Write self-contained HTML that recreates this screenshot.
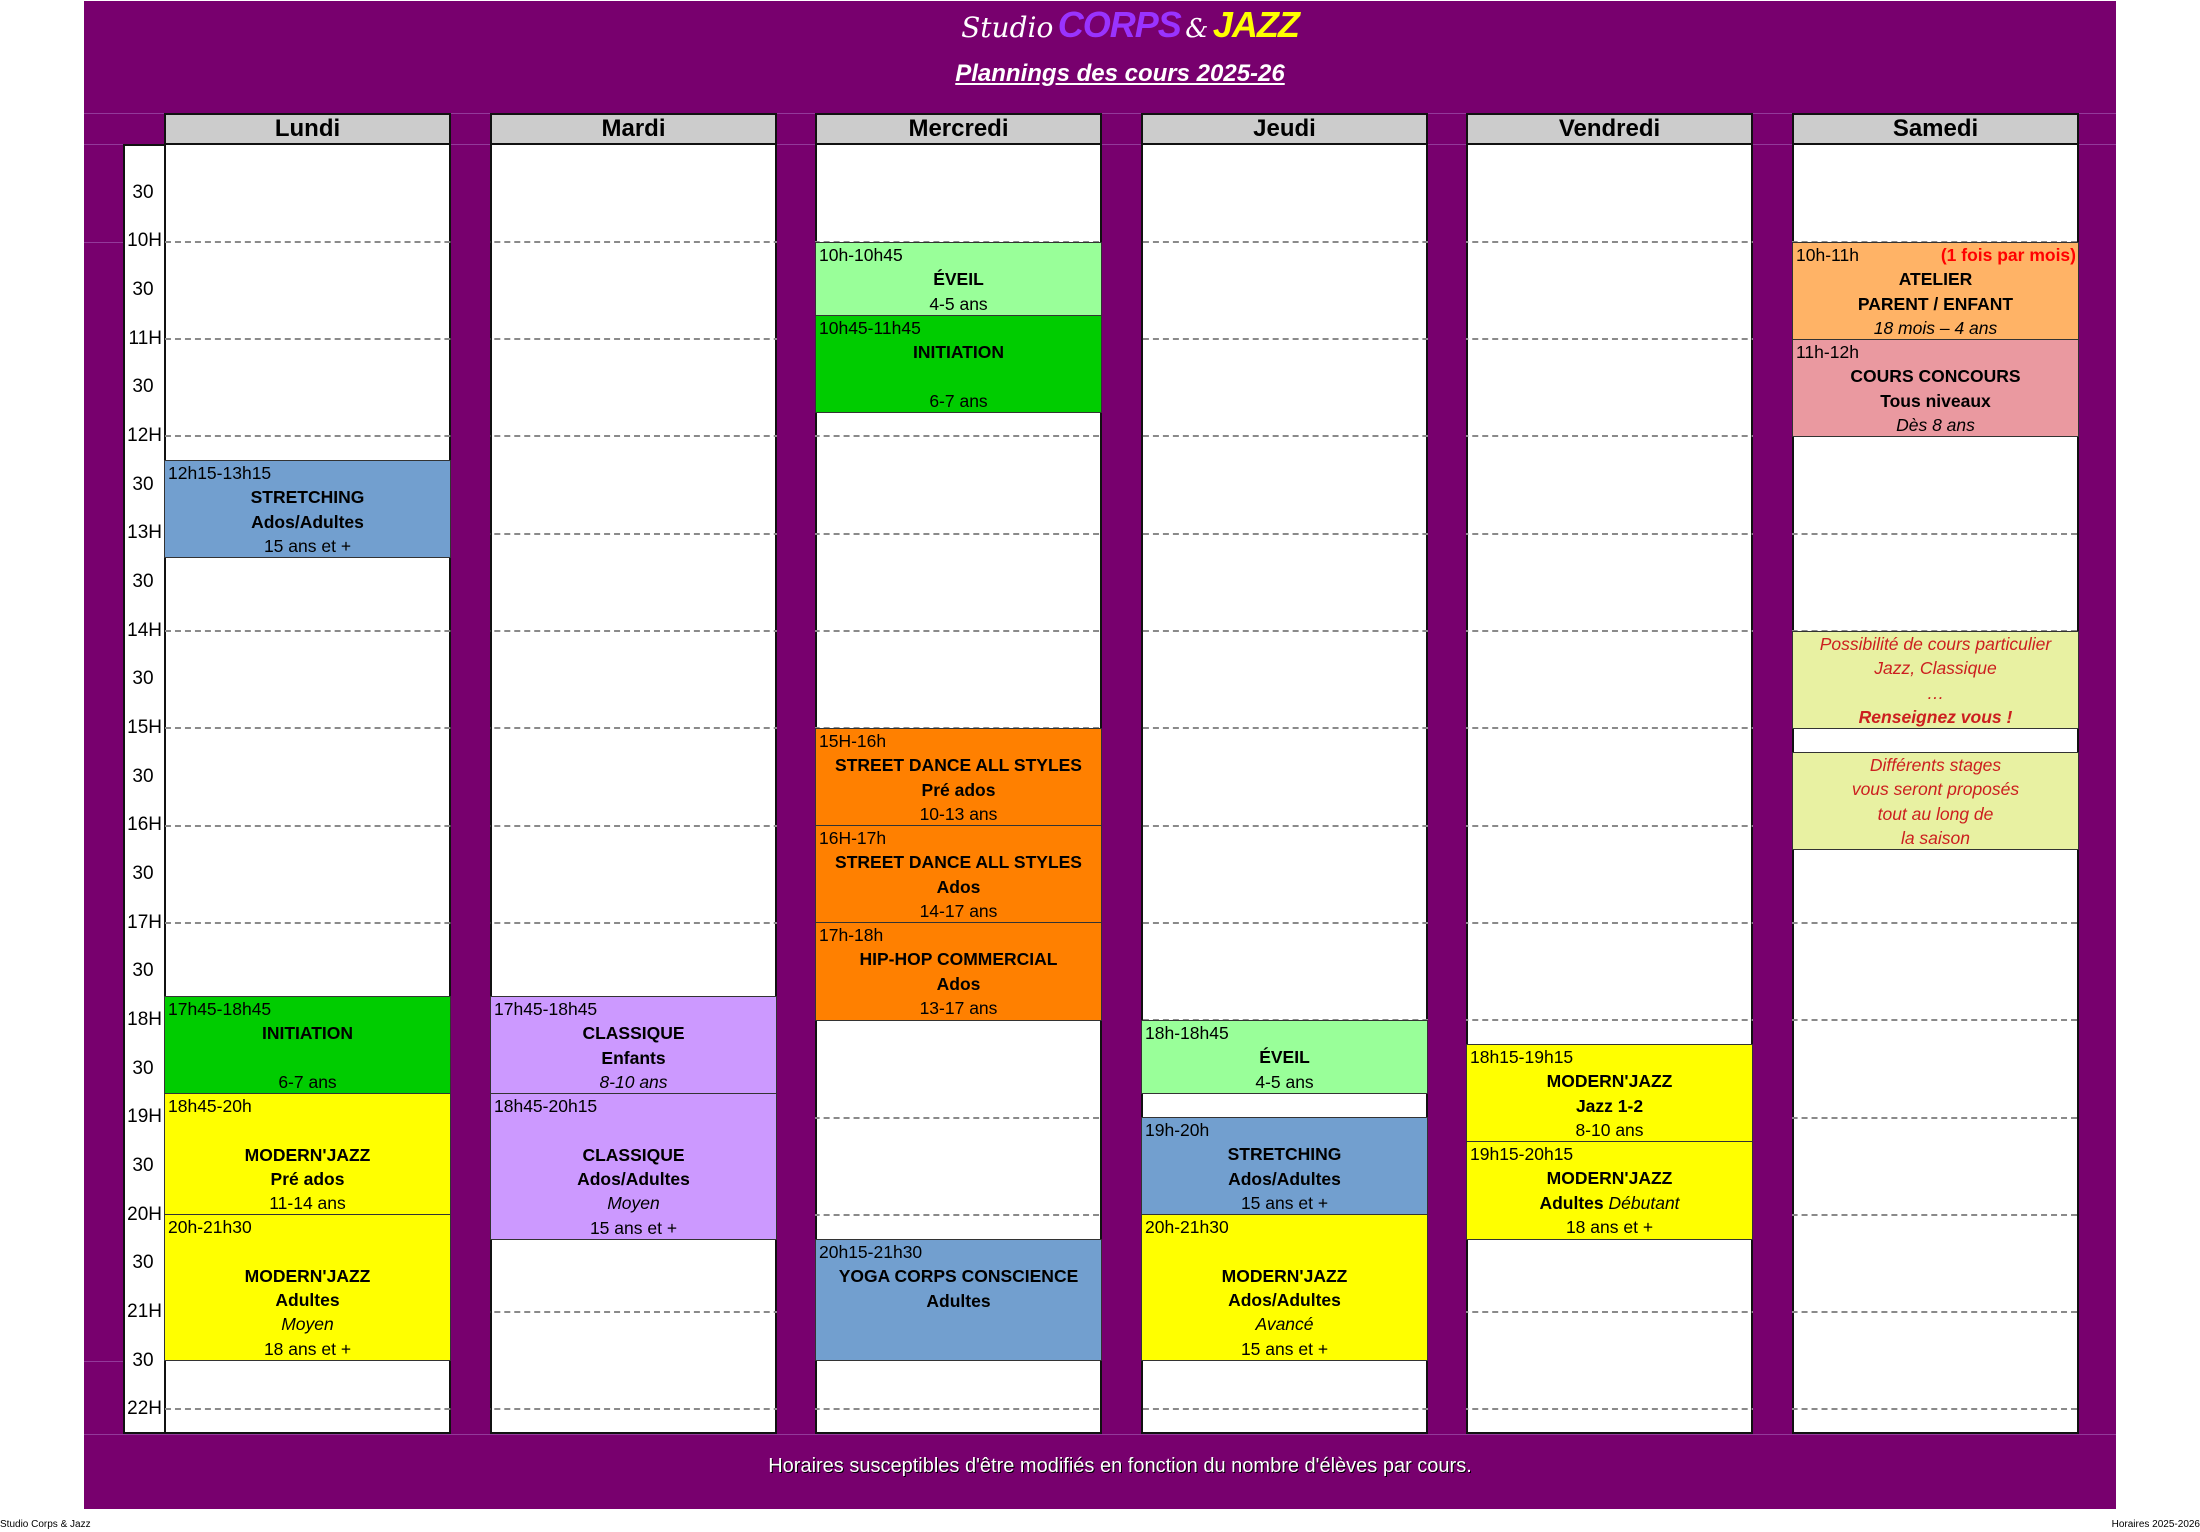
<!DOCTYPE html>
<html><head><meta charset="utf-8"><style>
*{margin:0;padding:0;box-sizing:border-box}
body{width:2200px;height:1532px;position:relative;background:#fff;font-family:"Liberation Sans",Arial,sans-serif;overflow:hidden}
.bg{position:absolute;left:84px;top:1px;width:2032px;height:1508px;background:#78006e}
.hl{position:absolute;left:84px;width:2032px;height:1px;background:#93399a}
.hdr{position:absolute;top:113px;height:32px;width:287px;background:#cccccc;border:2px solid #111;font-weight:bold;font-size:24px;text-align:center;line-height:28px}
.col{position:absolute;top:144px;height:1290px;width:287px;background:#fff;border:2px solid #111;border-top:1px solid #111}
.tc{position:absolute;left:123px;top:144px;width:42px;height:1290px;background:#fff;border:2px solid #111;border-right:1px solid #111}
.tl{position:absolute;left:123px;width:40px;font-size:19px;text-align:center;line-height:20px;height:20px}
.th{text-align:right;padding-right:1px}
.dl{position:absolute;height:0;border-top:2px dashed #8a8a8a}
.b{position:absolute;width:287px;border:1px solid #333;font-size:17.5px;line-height:24.33px;text-align:center;overflow:hidden;white-space:nowrap}
.b div{height:24.33px}
.b .t{text-align:left;padding-left:3px}
.bo{font-weight:bold}
.i{font-style:italic}
.r{color:#cc1f1f;font-style:italic}
</style></head><body>
<div class="bg"></div>
<div class="hl" style="top:113px"></div>
<div class="hl" style="top:144px"></div>
<div class="hl" style="top:242px"></div>
<div class="hl" style="top:1361px"></div>
<div class="hl" style="top:1434px"></div>

<div style="position:absolute;left:940px;top:4px;width:380px;height:42px;text-align:center;white-space:nowrap">
<span style="font-family:'DejaVu Serif',serif;font-style:italic;color:#fff;font-size:28px;">Studio</span>
<span style="font-style:italic;font-weight:bold;color:#9933ff;font-size:36px;letter-spacing:-1px">CORPS</span>
<span style="font-family:'DejaVu Serif',serif;font-style:italic;color:#fff;font-size:26px">&amp;</span>
<span style="font-style:italic;font-weight:bold;color:#ffff00;font-size:36px;letter-spacing:-1px">JAZZ</span>
</div>
<div style="position:absolute;left:800px;top:60px;width:640px;text-align:center;color:#fff;font-weight:bold;font-style:italic;font-size:24px;text-decoration:underline">Plannings des cours 2025-26</div>

<div class="hdr" style="left:164px">Lundi</div>
<div class="hdr" style="left:490px">Mardi</div>
<div class="hdr" style="left:815px">Mercredi</div>
<div class="hdr" style="left:1141px">Jeudi</div>
<div class="hdr" style="left:1466px">Vendredi</div>
<div class="hdr" style="left:1792px">Samedi</div>

<div class="tc"></div>
<div class="col" style="left:164px"></div>
<div class="col" style="left:490px"></div>
<div class="col" style="left:815px"></div>
<div class="col" style="left:1141px"></div>
<div class="col" style="left:1466px"></div>
<div class="col" style="left:1792px"></div>

<div class="dl" style="left:165px;width:1912px;top:241px"></div>
<div class="dl" style="left:165px;width:1912px;top:338px"></div>
<div class="dl" style="left:165px;width:1912px;top:435px"></div>
<div class="dl" style="left:165px;width:1912px;top:533px"></div>
<div class="dl" style="left:165px;width:1912px;top:630px"></div>
<div class="dl" style="left:165px;width:1912px;top:727px"></div>
<div class="dl" style="left:165px;width:1912px;top:825px"></div>
<div class="dl" style="left:165px;width:1912px;top:922px"></div>
<div class="dl" style="left:165px;width:1912px;top:1019px"></div>
<div class="dl" style="left:165px;width:1912px;top:1117px"></div>
<div class="dl" style="left:165px;width:1912px;top:1214px"></div>
<div class="dl" style="left:165px;width:1912px;top:1311px"></div>
<div class="dl" style="left:165px;width:1912px;top:1408px"></div>
<div style="position:absolute;top:230px;height:1190px;left:451px;width:39px;background:#78006e"></div>
<div style="position:absolute;top:230px;height:1190px;left:777px;width:38px;background:#78006e"></div>
<div style="position:absolute;top:230px;height:1190px;left:1102px;width:39px;background:#78006e"></div>
<div style="position:absolute;top:230px;height:1190px;left:1428px;width:38px;background:#78006e"></div>
<div style="position:absolute;top:230px;height:1190px;left:1753px;width:39px;background:#78006e"></div>
<div style="position:absolute;top:230px;height:1190px;left:2079px;width:37px;background:#78006e"></div>

<div class="tl" style="top:183px">30</div>
<div class="tl th" style="top:231px">10H</div>
<div class="tl" style="top:280px">30</div>
<div class="tl th" style="top:329px">11H</div>
<div class="tl" style="top:377px">30</div>
<div class="tl th" style="top:426px">12H</div>
<div class="tl" style="top:475px">30</div>
<div class="tl th" style="top:523px">13H</div>
<div class="tl" style="top:572px">30</div>
<div class="tl th" style="top:621px">14H</div>
<div class="tl" style="top:669px">30</div>
<div class="tl th" style="top:718px">15H</div>
<div class="tl" style="top:767px">30</div>
<div class="tl th" style="top:815px">16H</div>
<div class="tl" style="top:864px">30</div>
<div class="tl th" style="top:913px">17H</div>
<div class="tl" style="top:961px">30</div>
<div class="tl th" style="top:1010px">18H</div>
<div class="tl" style="top:1059px">30</div>
<div class="tl th" style="top:1107px">19H</div>
<div class="tl" style="top:1156px">30</div>
<div class="tl th" style="top:1205px">20H</div>
<div class="tl" style="top:1253px">30</div>
<div class="tl th" style="top:1302px">21H</div>
<div class="tl" style="top:1351px">30</div>
<div class="tl th" style="top:1399px">22H</div>

<div class="b" style="left:164px;top:460px;height:98px;background:#729fcf"><div class="t">12h15-13h15</div><div class="bo">STRETCHING</div><div class="bo">Ados/Adultes</div><div>15 ans et +</div></div>
<div class="b" style="left:164px;top:996px;height:98px;background:#00cc00"><div class="t">17h45-18h45</div><div class="bo">INITIATION</div><div></div><div>6-7 ans</div></div>
<div class="b" style="left:164px;top:1093px;height:122px;background:#ffff00"><div class="t">18h45-20h</div><div></div><div class="bo">MODERN'JAZZ</div><div class="bo">Pré ados</div><div>11-14 ans</div></div>
<div class="b" style="left:164px;top:1214px;height:147px;background:#ffff00"><div class="t">20h-21h30</div><div></div><div class="bo">MODERN'JAZZ</div><div class="bo">Adultes</div><div class="i">Moyen</div><div>18 ans et +</div></div>

<div class="b" style="left:490px;top:996px;height:98px;background:#cc99ff"><div class="t">17h45-18h45</div><div class="bo">CLASSIQUE</div><div class="bo">Enfants</div><div class="i">8-10 ans</div></div>
<div class="b" style="left:490px;top:1093px;height:147px;background:#cc99ff"><div class="t">18h45-20h15</div><div></div><div class="bo">CLASSIQUE</div><div class="bo">Ados/Adultes</div><div class="i">Moyen</div><div>15 ans et +</div></div>

<div class="b" style="left:815px;top:242px;height:74px;background:#99ff99"><div class="t">10h-10h45</div><div class="bo">ÉVEIL</div><div>4-5 ans</div></div>
<div class="b" style="left:815px;top:315px;height:98px;background:#00cc00"><div class="t">10h45-11h45</div><div class="bo">INITIATION</div><div></div><div>6-7 ans</div></div>
<div class="b" style="left:815px;top:728px;height:98px;background:#ff8000"><div class="t">15H-16h</div><div class="bo">STREET DANCE ALL STYLES</div><div class="bo">Pré ados</div><div>10-13 ans</div></div>
<div class="b" style="left:815px;top:825px;height:98px;background:#ff8000"><div class="t">16H-17h</div><div class="bo">STREET DANCE ALL STYLES</div><div class="bo">Ados</div><div>14-17 ans</div></div>
<div class="b" style="left:815px;top:922px;height:99px;background:#ff8000"><div class="t">17h-18h</div><div class="bo">HIP-HOP COMMERCIAL</div><div class="bo">Ados</div><div>13-17 ans</div></div>
<div class="b" style="left:815px;top:1239px;height:122px;background:#729fcf"><div class="t">20h15-21h30</div><div class="bo">YOGA CORPS CONSCIENCE</div><div class="bo">Adultes</div></div>

<div class="b" style="left:1141px;top:1020px;height:74px;background:#99ff99"><div class="t">18h-18h45</div><div class="bo">ÉVEIL</div><div>4-5 ans</div></div>
<div class="b" style="left:1141px;top:1117px;height:98px;background:#729fcf"><div class="t">19h-20h</div><div class="bo">STRETCHING</div><div class="bo">Ados/Adultes</div><div>15 ans et +</div></div>
<div class="b" style="left:1141px;top:1214px;height:147px;background:#ffff00"><div class="t">20h-21h30</div><div></div><div class="bo">MODERN'JAZZ</div><div class="bo">Ados/Adultes</div><div class="i">Avancé</div><div>15 ans et +</div></div>

<div class="b" style="left:1466px;top:1044px;height:98px;background:#ffff00"><div class="t">18h15-19h15</div><div class="bo">MODERN'JAZZ</div><div class="bo">Jazz 1-2</div><div>8-10 ans</div></div>
<div class="b" style="left:1466px;top:1141px;height:99px;background:#ffff00"><div class="t">19h15-20h15</div><div class="bo">MODERN'JAZZ</div><div><b>Adultes</b> <i>Débutant</i></div><div>18 ans et +</div></div>

<div class="b" style="left:1792px;top:242px;height:98px;background:#ffb366"><div class="t">10h-11h<span style="float:right;color:#ff0000;font-weight:bold;padding-right:2px">(1 fois par mois)</span></div><div class="bo">ATELIER</div><div class="bo">PARENT / ENFANT</div><div class="i">18 mois – 4 ans</div></div>
<div class="b" style="left:1792px;top:339px;height:98px;background:#ea99a0"><div class="t">11h-12h</div><div class="bo">COURS CONCOURS</div><div class="bo">Tous niveaux</div><div class="i">Dès 8 ans</div></div>
<div class="b" style="left:1792px;top:631px;height:98px;background:#e8f1a2"><div class="r">Possibilité de cours particulier</div><div class="r">Jazz, Classique</div><div class="r">…</div><div class="r bo">Renseignez vous !</div></div>
<div class="b" style="left:1792px;top:752px;height:98px;background:#e8f1a2"><div class="r">Différents stages</div><div class="r">vous seront proposés</div><div class="r">tout au long de</div><div class="r">la saison</div></div>

<div style="position:absolute;left:600px;top:1455px;width:1040px;text-align:center;color:#fff;font-size:20px;text-shadow:1px 1px 0 #000">Horaires susceptibles d'être modifiés en fonction du nombre d'élèves par cours.</div>

<div style="position:absolute;left:0;top:1519px;font-size:10px">Studio Corps &amp; Jazz</div>
<div style="position:absolute;right:0;top:1519px;font-size:10px">Horaires 2025-2026</div>
</body></html>
